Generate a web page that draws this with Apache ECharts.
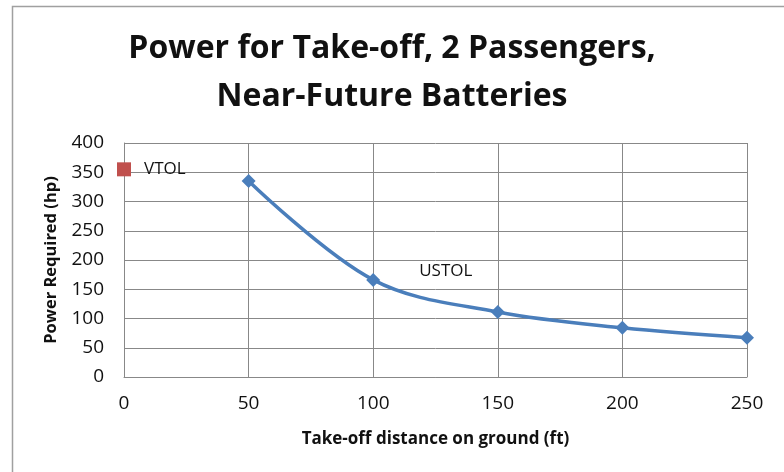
<!DOCTYPE html>
<html>
<head>
<meta charset="utf-8">
<script src="https://cdn.jsdelivr.net/npm/echarts@6/dist/echarts.min.js"></script>
<style>
  html, body { margin: 0; padding: 0; background: #fff; }
  #main { width: 784px; height: 472px; }
</style>
</head>
<body>
<div id="main"></div>
<script>
  // 数据
  var ustolX = [50, 100, 150, 200, 250]
  var ustolY = [335, 166, 111, 84, 67]
  var vtolX = [0]
  var vtolY = [355]
  var xTicks = [0, 50, 100, 150, 200, 250]
  var yTicks = [0, 50, 100, 150, 200, 250, 300, 350, 400]

  var myChart = echarts.init(document.getElementById('main'))
  var ustolData = ustolX.map(function (x, i) {
    var p = { value: [x, ustolY[i]] }
    if (i === 1) {
      p.label = { show: true, formatter: 'USTOL', position: 'right', offset: [34, -9],
        color: '#111', fontSize: 17, fontFamily: 'Open Sans' }
    }
    return p
  })
  var vtolData = vtolX.map(function (x, i) { return [x, vtolY[i]] })

  var option = {
    backgroundColor: '#fff',
    animation: false,
    title: {
      text: 'Power for Take-off, 2 Passengers,\nNear-Future Batteries',
      left: 'center',
      top: 20,
      textStyle: { fontFamily: 'Open Sans', fontWeight: 'bold', fontSize: 32, lineHeight: 48, color: '#111' }
    },
    graphic: [{
      type: 'rect',
      shape: { x: 12.5, y: 6.5, width: 800, height: 500 },
      style: { fill: 'none', stroke: '#a0a0a0', lineWidth: 1.5 },
      silent: true
    }],
    grid: { left: 124, right: 37, top: 143, bottom: 95 },
    xAxis: {
      type: 'value',
      min: xTicks[0], max: xTicks[xTicks.length - 1], interval: 50,
      name: 'Take-off distance on ground (ft)',
      nameLocation: 'middle', nameGap: 54,
      nameTextStyle: { fontFamily: 'Open Sans', fontWeight: 'bold', fontSize: 17, color: '#111' },
      axisLine: { lineStyle: { color: '#888' } },
      axisTick: { show: false },
      axisLabel: { margin: 17, fontSize: 19, color: '#111', fontFamily: 'Open Sans' },
      splitLine: { show: true, lineStyle: { color: '#888' } }
    },
    yAxis: {
      type: 'value',
      min: yTicks[0], max: yTicks[yTicks.length - 1], interval: 50,
      name: 'Power Required (hp)',
      nameLocation: 'middle', nameGap: 64,
      nameTextStyle: { fontFamily: 'Open Sans', fontWeight: 'bold', fontSize: 16.5, color: '#111' },
      axisLine: { show: true, lineStyle: { color: '#888' } },
      axisTick: { show: false },
      axisLabel: { margin: 20, fontSize: 19, color: '#111', fontFamily: 'Open Sans' },
      splitLine: { show: true, lineStyle: { color: '#888' } }
    },
    series: [{
      name: 'USTOL',
      type: 'line',
      data: ustolData,
      smooth: 0.35,
      symbol: 'diamond',
      symbolSize: 14,
      lineStyle: { color: '#4A7EBB', width: 3.5 },
      itemStyle: { color: '#4A7EBB' }
    }, {
      name: 'VTOL',
      type: 'scatter',
      data: vtolData,
      symbol: 'rect',
      symbolSize: 14,
      itemStyle: { color: '#C0504D', opacity: 1 },
      label: { show: true, formatter: 'VTOL', position: 'right', distance: 13,
        color: '#111', fontSize: 17, fontFamily: 'Open Sans' }
    }]
  }
  myChart.setOption(option)
</script>
</body>
</html>
